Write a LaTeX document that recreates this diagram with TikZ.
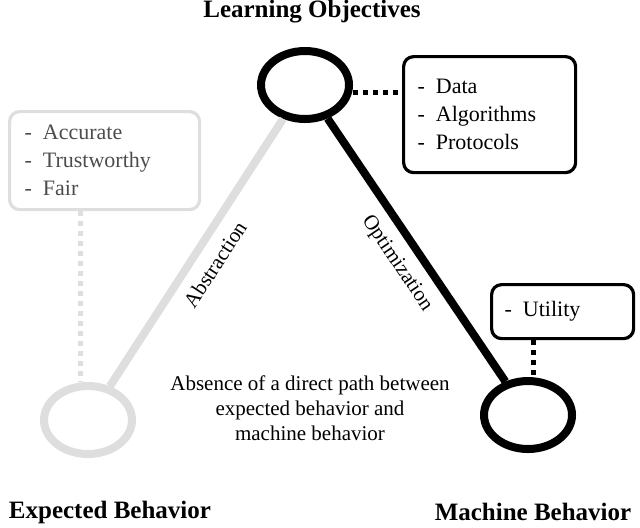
\documentclass[tikz,border=0pt]{standalone}
\usepackage{fontspec}
\setmainfont{Liberation Serif}
\usetikzlibrary{calc,shapes.geometric}

\tikzset{
  ring/.style={draw, line width=4pt, ellipse, minimum width=44pt, minimum height=34pt},
  listbox/.style={draw, line width=1.6pt, rounded corners=5pt, align=left, font=\fontsize{11}{14}\selectfont},
  title/.style={font=\bfseries\fontsize{12.5}{14}\selectfont},
  link/.style={line width=4pt},
  dots/.style={line width=2.5pt, dash pattern=on 2.5pt off 2.5pt}
}

\begin{document}
\begin{tikzpicture}[x=0.5pt,y=-0.5pt]
\useasboundingbox (0,0) rectangle (640,527);

% circles
\node[ring] (lo) at (305,85) {};
\node[ring, draw=black!13] (eb) at (88,420) {};
\node[ring] (mb) at (528,415) {};

\node[title] at (312,12) {Learning Objectives};
\node[title] at (110,512) {Expected Behavior};
\node[title] at (533,512) {Machine Behavior};

% edges
\draw[link, black!13] (eb) -- (lo) node[midway, below=2pt, sloped, text=black, font=\fontsize{10.5}{12}\selectfont] {Abstraction};
\draw[link] (lo) -- (mb) node[midway, below=2pt, sloped, font=\fontsize{10.5}{12}\selectfont] {Optimization};

% boxes
\node[listbox, draw=black!13, text=black!70, minimum width=95pt, minimum height=49pt, anchor=north west, text width=80pt] (goals) at (8,110) {-\enspace Accurate\\-\enspace Trustworthy\\-\enspace Fair};
\node[listbox, minimum width=86pt, minimum height=58pt, anchor=north west, text width=72pt] (means) at (402,55) {-\enspace Data\\-\enspace Algorithms\\-\enspace Protocols};
\node[listbox, minimum width=71pt, minimum height=27pt, anchor=north west, text width=58pt] (util) at (490,283) {-\enspace Utility};

% dotted ties
\draw[dots, black!13] (goals.south -| 80,0) -- (eb.north -| 80,0);
\draw[dots] (lo.east |- 0,92) -- (means.west |- 0,92);
\draw[dots] (util.south -| 533,0) -- (mb.north -| 533,0);

\node[align=center, font=\fontsize{10.5}{12.5}\selectfont] (note) at (310,408) {Absence of a direct path between\\expected behavior and\\machine behavior};
\end{tikzpicture}
\end{document}
